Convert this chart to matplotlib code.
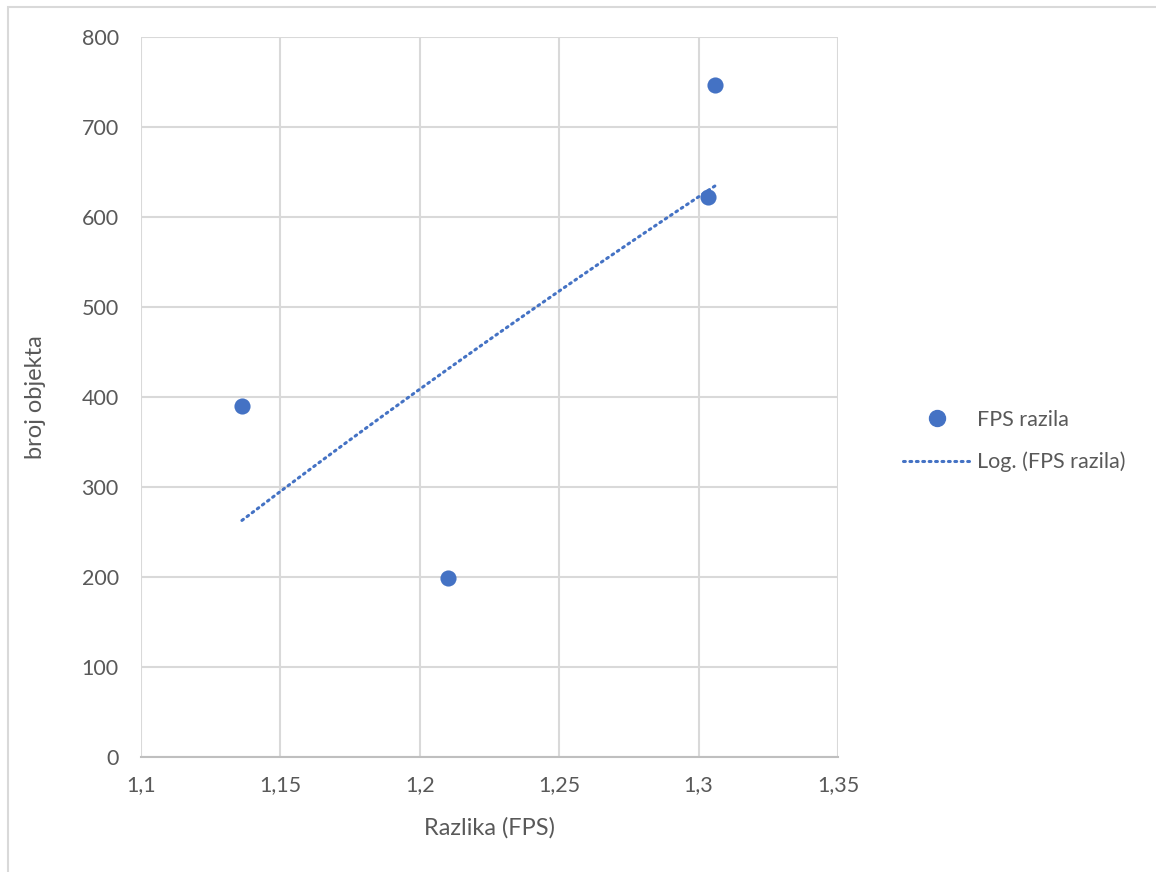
import numpy as np
import matplotlib
matplotlib.use("Agg")
import matplotlib.pyplot as plt
from matplotlib.patches import Rectangle
from matplotlib.lines import Line2D

# Data
razlika_fps = [1.1362, 1.2101, 1.3034, 1.3059]
broj_objekta = [390, 199, 622, 747]
x_ticks = [1.1, 1.15, 1.2, 1.25, 1.3, 1.35]
x_tick_labels = ["1,1", "1,15", "1,2", "1,25", "1,3", "1,35"]
y_ticks = [0, 100, 200, 300, 400, 500, 600, 700, 800]
series_name = "FPS razila"
trend_name = "Log. (FPS razila)"

plt.rcParams['font.family'] = ['Lato', 'DejaVu Sans']
TXT = '#595959'
BLUE = '#4472C4'
GRID = '#d9d9d9'

W, H = 1156, 872
fig = plt.figure(figsize=(W / 100, H / 100), dpi=100)
fig.patches.append(Rectangle((8 / W, 0 - 0.01), (W - 8) / W + 0.02, (H - 7) / H + 0.01,
                             transform=fig.transFigure, fill=False,
                             edgecolor='#d9d9d9', linewidth=1.5))

ax = fig.add_axes([141 / W, (H - 757) / H, (838 - 141) / W, (757 - 37) / H])

x = np.array(razlika_fps)
y = np.array(broj_objekta)
# logarithmic trendline (least squares on ln x)
a, b = np.polyfit(np.log(x), y, 1)
xt = np.linspace(x.min(), x.max(), 200)
yt = a * np.log(xt) + b
ax.plot(xt, yt, color=BLUE, linewidth=2.2, linestyle=(0, (0.6, 1.5)),
        dash_capstyle='round', zorder=3)
ax.scatter(x, y, s=135, color=BLUE, zorder=4, linewidths=0)

ax.set_xlim(1.1, 1.35)
ax.set_ylim(0, 800)
ax.set_xticks(x_ticks)
ax.set_xticklabels(x_tick_labels)
ax.set_yticks(y_ticks)
ax.grid(True, color=GRID, linewidth=1.5)
ax.set_axisbelow(True)
for s in ['top', 'right', 'left']:
    ax.spines[s].set_visible(False)
ax.spines['bottom'].set_color('#bfbfbf')
ax.spines['bottom'].set_linewidth(1.5)
ax.tick_params(length=0, labelsize=15.5, labelcolor=TXT)
ax.tick_params(axis='y', pad=16)
ax.tick_params(axis='x', pad=13)
ax.set_xlabel("Razlika (FPS)", fontsize=17, color=TXT, va='center')
ax.set_ylabel("broj objekta", fontsize=17, color=TXT, va='center')
ax.xaxis.set_label_coords((489 - 141) / 697, (757 - 828) / 720)
ax.yaxis.set_label_coords((35 - 141) / 697, 0.5)

handles = [Line2D([], [], marker='o', linestyle='none', color=BLUE, markersize=11.5),
           Line2D([], [], color=BLUE, linewidth=2.2, linestyle=(0, (0.6, 1.5)),
                  dash_capstyle='round')]
fig.legend(handles, [series_name, trend_name], loc='center left',
           bbox_to_anchor=(903 / W, 1 - 441 / H), frameon=False, borderaxespad=0,
           borderpad=0, fontsize=15.5, labelcolor=TXT, handlelength=3.2,
           handletextpad=0.25, labelspacing=1.0)

fig.savefig("out.png", dpi=100)
